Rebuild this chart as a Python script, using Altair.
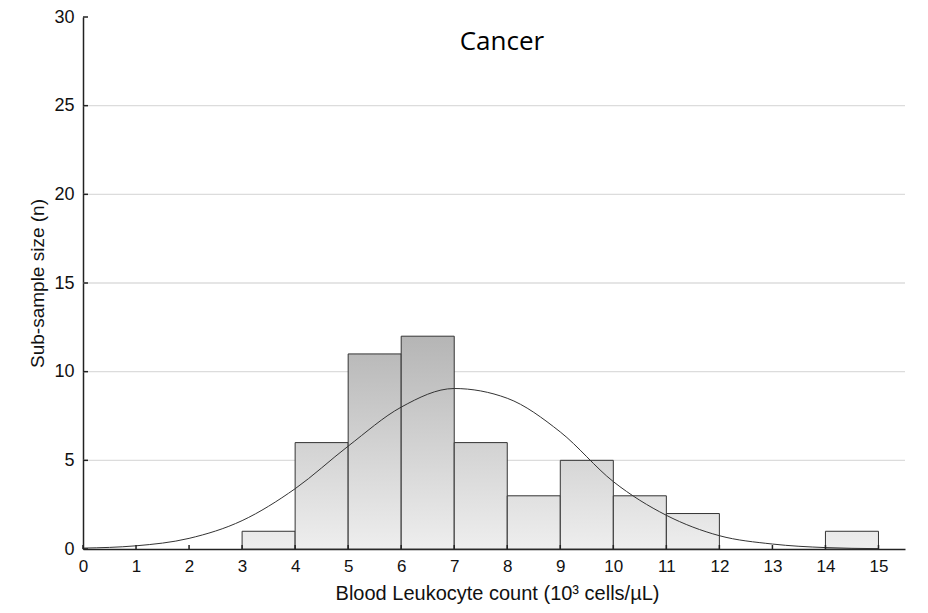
import altair as alt
import pandas as pd

# Histogram bins (lower edge, upper edge, count)
bin_start = [3, 4, 5, 6, 7, 8, 9, 10, 11, 14]
bin_end = [4, 5, 6, 7, 8, 9, 10, 11, 12, 15]
counts = [1, 6, 11, 12, 6, 3, 5, 3, 2, 1]

# Fitted normal curve
curve_x = [0, 1, 2, 3, 4, 5, 6, 7, 8, 9, 10, 11, 12, 13, 14, 15]
curve_y = [0.05, 0.18, 0.6, 1.6, 3.4, 5.8, 8.0, 9.05, 8.5, 6.6, 3.8, 1.9, 0.75, 0.28, 0.08, 0.02]

x_ticks = list(range(0, 16))
y_ticks = [0, 5, 10, 15, 20, 25, 30]
grid_vals = [5, 10, 15, 20, 25]

W, H = 822, 532

bars = pd.DataFrame({"x0": bin_start, "x1": bin_end, "n": counts})
curve = pd.DataFrame({"x": curve_x, "y": curve_y})

xs = alt.Scale(domain=[0, 15.5], nice=False, zero=False)
ys = alt.Scale(domain=[0, 30], nice=False)

FONT = "Liberation Sans"
x_axis = alt.Axis(values=x_ticks, title="Blood Leukocyte count (10³ cells/µL)", grid=False,
                  tickSize=0, labelPadding=9, labelFontSize=17, labelColor="#111",
                  labelFont=FONT, titleFont=FONT, titleFontSize=20,
                  titleFontWeight="normal", titleColor="#111", titlePadding=9, titleX=414,
                  domainColor="#222", domainWidth=1.5, labelFlush=False)
y_axis = alt.Axis(values=y_ticks, title="Sub-sample size (n)", grid=False,
                  tickSize=0, labelPadding=9, labelFontSize=18, labelColor="#111",
                  labelFont=FONT, titleFont=FONT, titleFontSize=19,
                  titleFontWeight="normal", titleColor="#111", titlePadding=6,
                  domainColor="#222", domainWidth=1.5)

base = alt.Chart(bars)

def shade(v):
    c = int(round(238 - 57 * v / 12))
    return "#%02x%02x%02x" % (c, c, c)

layers = []
# gridlines (no line at 30)
layers.append(
    alt.Chart(pd.DataFrame({"g": grid_vals})).mark_rule(color="#dcdcdc", strokeWidth=1.3).encode(
        y=alt.Y("g:Q", scale=ys, axis=y_axis), x=alt.value(0), x2=alt.value(W)
    )
)
# axes carrier
layers.append(
    alt.Chart(pd.DataFrame({"x": [0], "y": [0]})).mark_point(opacity=0).encode(
        x=alt.X("x:Q", scale=xs, axis=x_axis),
        y=alt.Y("y:Q", scale=ys, axis=y_axis),
    )
)
for i, (a, b, n) in enumerate(zip(bin_start, bin_end, counts)):
    grad = {
        "gradient": "linear", "x1": 0, "x2": 0, "y1": 0, "y2": 1,
        "stops": [{"offset": 0, "color": shade(n)}, {"offset": 1, "color": "#eeeeee"}],
    }
    layers.append(
        base.transform_filter(alt.datum.x0 == a).mark_bar(
            fill=grad, stroke="#333333", strokeWidth=1
        ).encode(
            x=alt.X("x0:Q", scale=xs),
            x2="x1:Q",
            y=alt.Y("n:Q", scale=ys),
            y2=alt.datum(0),
        )
    )

layers.append(
    alt.Chart(curve).mark_line(color="#333333", strokeWidth=1, interpolate="monotone").encode(
        x=alt.X("x:Q", scale=xs), y=alt.Y("y:Q", scale=ys)
    )
)

# inward tick marks
layers.append(
    alt.Chart(pd.DataFrame({"t": x_ticks})).mark_rule(color="#222", strokeWidth=1.5).encode(
        x=alt.X("t:Q", scale=xs), y=alt.value(H), y2=alt.value(H - 4)
    )
)
layers.append(
    alt.Chart(pd.DataFrame({"t": y_ticks})).mark_rule(color="#222", strokeWidth=1.5).encode(
        y=alt.Y("t:Q", scale=ys), x=alt.value(0), x2=alt.value(5)
    )
)

layers.append(
    alt.Chart(pd.DataFrame({"x": [7.9], "y": [28.6], "t": ["Cancer"]})).mark_text(
        font="Open Sans", fontSize=26, color="#000", align="center", baseline="middle"
    ).encode(x=alt.X("x:Q", scale=xs), y=alt.Y("y:Q", scale=ys), text="t:N")
)

chart = alt.layer(*layers).properties(
    width=W, height=H,
    background="white",
    autosize=alt.AutoSizeParams(type="none"),
    padding={"left": 83, "top": 17, "right": 23, "bottom": 64},
).configure_view(stroke="transparent", strokeWidth=0).configure_axis(grid=False)

chart.save("out.html", embed_options={"renderer": "svg", "actions": False})
